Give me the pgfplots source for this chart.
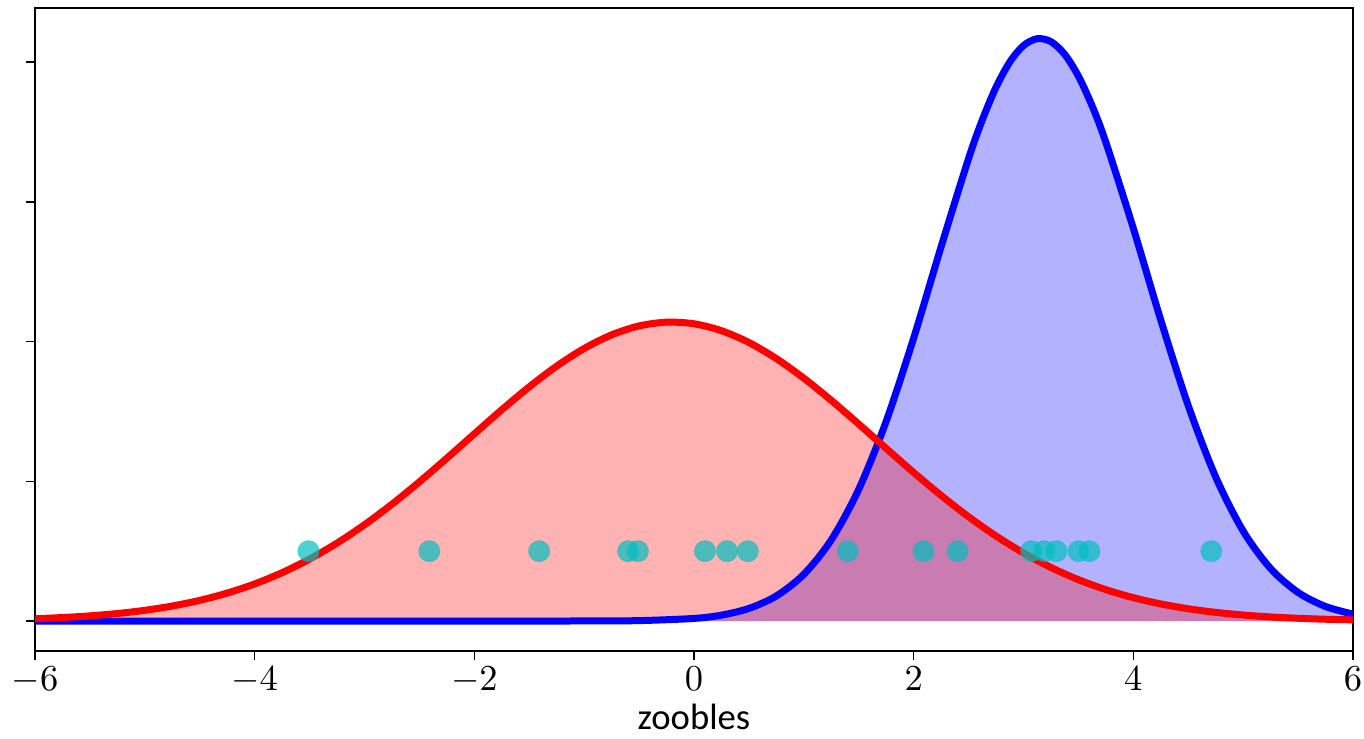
\documentclass[border=0pt]{standalone}
\usepackage{fontspec}
\setmainfont{Carlito}
\usepackage{pgfplots}
\pgfplotsset{compat=1.18}
\usetikzlibrary{calc}
\definecolor{dotc}{RGB}{0,191,191}
\begin{document}
\begin{tikzpicture}
\begin{axis}[
  name=ax,
  scale only axis,
  width=395.4pt, height=192.9pt,
  xmin=-6, xmax=6, ymin=-0.02148, ymax=0.4388,
  xtick={-6,-4,-2,0,2,4,6},
  ytick={0,0.1,0.2,0.3,0.4},
  yticklabels={},
  tick align=outside,
  major tick length=2.7pt,
  xtick pos=bottom, ytick pos=left,
  every tick/.style={black, line width=0.45pt},
  axis line style={line width=0.5pt},
  tick label style={font=\fontsize{11}{13}\selectfont},
  xticklabel style={yshift=1.5pt},
  xlabel={zoobles},
  xlabel style={font=\fontsize{11}{13}\selectfont, yshift=3.6pt},
  clip=true,
]
% blue fill
\addplot[smooth, draw=none, fill=blue, fill opacity=0.3] coordinates {
(-6,0) (-5,0) (-4,0) (-3,0) (-2,0) (-1,0.00003) (-0.5,0.00029) (0,0.00185) (0.25,0.00422) (0.5,0.00902) (0.75,0.01796)
(1,0.03343) (1.25,0.05811) (1.5,0.09433) (1.75,0.14304) (2,0.20257) (2.25,0.26797) (2.5,0.33110) (2.625,0.35875) (2.75,0.38212)
(2.875,0.40013) (3,0.41191) (3.125,0.41686) (3.25,0.41473) (3.375,0.40563) (3.5,0.39002) (3.625,0.36867) (3.75,0.34260) (4,0.28107) (4.25,0.21540) (4.5,0.15417) (4.75,0.10308)
(5,0.06438) (5.25,0.03754) (5.5,0.02045) (5.75,0.01041) (6,0.00495)
} \closedcycle;
% red fill
\addplot[smooth, draw=none, fill=red, fill opacity=0.3] coordinates {
(-6,0.00165) (-5.75,0.00250) (-5.5,0.00369) (-5.25,0.00537) (-5,0.00766) (-4.75,0.01074) (-4.5,0.01479) (-4.25,0.02000)
(-4,0.02655) (-3.75,0.03462) (-3.5,0.04435) (-3.25,0.05579) (-3,0.06892) (-2.75,0.08361) (-2.5,0.09963) (-2.25,0.11659)
(-2,0.13398) (-1.75,0.15123) (-1.5,0.16762) (-1.25,0.18248) (-1,0.19509) (-0.75,0.20485) (-0.5,0.21123) (-0.25,0.21392)
(0,0.21277) (0.25,0.20783) (0.5,0.19937) (0.75,0.18783) (1,0.17379) (1.25,0.15793) (1.5,0.14094) (1.75,0.12353)
(2,0.10632) (2.25,0.08988) (2.5,0.07461) (2.75,0.06084) (3,0.04872) (3.25,0.03831) (3.5,0.02959) (3.75,0.02244)
(4,0.01672) (4.25,0.01223) (4.5,0.00879) (4.75,0.00620) (5,0.00430) (5.25,0.00293) (5.5,0.00196) (5.75,0.00128) (6,0.00083)
} \closedcycle;
% blue line
\addplot[smooth, blue, line width=2.1pt] coordinates {
(-6,0) (-5,0) (-4,0) (-3,0) (-2,0) (-1,0.00003) (-0.5,0.00029) (0,0.00185) (0.25,0.00422) (0.5,0.00902) (0.75,0.01796)
(1,0.03343) (1.25,0.05811) (1.5,0.09433) (1.75,0.14304) (2,0.20257) (2.25,0.26797) (2.5,0.33110) (2.625,0.35875) (2.75,0.38212)
(2.875,0.40013) (3,0.41191) (3.125,0.41686) (3.25,0.41473) (3.375,0.40563) (3.5,0.39002) (3.625,0.36867) (3.75,0.34260) (4,0.28107) (4.25,0.21540) (4.5,0.15417) (4.75,0.10308)
(5,0.06438) (5.25,0.03754) (5.5,0.02045) (5.75,0.01041) (6,0.00495)
};
% red line
\addplot[smooth, red, line width=2.1pt] coordinates {
(-6,0.00165) (-5.75,0.00250) (-5.5,0.00369) (-5.25,0.00537) (-5,0.00766) (-4.75,0.01074) (-4.5,0.01479) (-4.25,0.02000)
(-4,0.02655) (-3.75,0.03462) (-3.5,0.04435) (-3.25,0.05579) (-3,0.06892) (-2.75,0.08361) (-2.5,0.09963) (-2.25,0.11659)
(-2,0.13398) (-1.75,0.15123) (-1.5,0.16762) (-1.25,0.18248) (-1,0.19509) (-0.75,0.20485) (-0.5,0.21123) (-0.25,0.21392)
(0,0.21277) (0.25,0.20783) (0.5,0.19937) (0.75,0.18783) (1,0.17379) (1.25,0.15793) (1.5,0.14094) (1.75,0.12353)
(2,0.10632) (2.25,0.08988) (2.5,0.07461) (2.75,0.06084) (3,0.04872) (3.25,0.03831) (3.5,0.02959) (3.75,0.02244)
(4,0.01672) (4.25,0.01223) (4.5,0.00879) (4.75,0.00620) (5,0.00430) (5.25,0.00293) (5.5,0.00196) (5.75,0.00128) (6,0.00083)
};
% observations
\addplot[only marks, mark=*, mark size=3.2pt, color=dotc, opacity=0.7, mark options={draw=dotc, fill=dotc, line width=0.1pt}] coordinates {
(-3.51,0.05) (-2.41,0.05) (-1.41,0.05) (-0.60,0.05) (-0.51,0.05) (0.10,0.05) (0.30,0.05) (0.49,0.05)
(1.40,0.05) (2.09,0.05) (2.40,0.05) (3.07,0.05) (3.19,0.05) (3.30,0.05) (3.50,0.05) (3.60,0.05) (4.71,0.05)
};
\end{axis}
\pgfresetboundingbox
\path[use as bounding box] ($(ax.south west)+(-10.5pt,-26.1pt)$) rectangle ($(ax.north east)+(3.3pt,2.4pt)$);
\end{tikzpicture}
\end{document}
